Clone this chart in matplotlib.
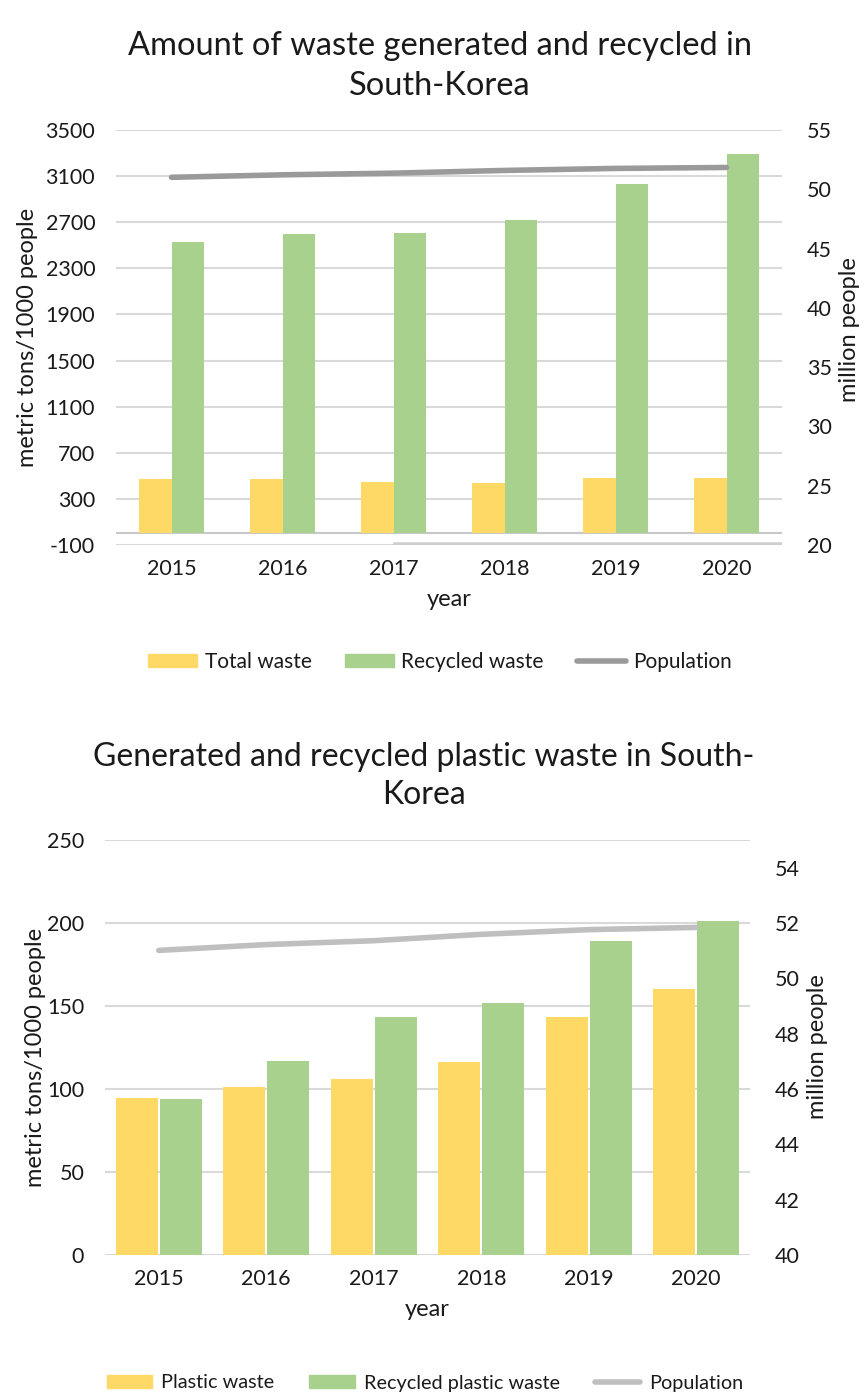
import numpy as np
import matplotlib
matplotlib.use("Agg")
import matplotlib.pyplot as plt
from matplotlib.patches import Patch
from matplotlib.lines import Line2D

years = ["2015", "2016", "2017", "2018", "2019", "2020"]

# metric tons per 1000 people
total_waste = [470, 470, 450, 436, 477, 477]
recycled_waste = [2530, 2595, 2606, 2723, 3035, 3296]
plastic_waste = [94.8, 101, 106.2, 116.1, 143.4, 160]
recycled_plastic = [94, 117, 143.4, 152, 189.2, 201.4]

# million people
population = [51.01, 51.22, 51.36, 51.59, 51.76, 51.84]

YELLOW = "#FFD966"
GREEN = "#A9D18E"
GRID = "#D9D9D9"
TXT = "#1A1A1A"

W, H = 864, 1396
plt.rcParams["font.family"] = ["Lato", "DejaVu Sans"]
plt.rcParams["axes.unicode_minus"] = False

fig = plt.figure(figsize=(W / 100, H / 100), dpi=100)


def px_axes(left, top, right, bottom):
    return fig.add_axes([left / W, 1 - bottom / H, (right - left) / W, (bottom - top) / H])


def px_text(x, y, s, **kw):
    return fig.text(x / W, 1 - y / H, s, **kw)


def style(ax, ax2):
    for a in (ax, ax2):
        for s in a.spines.values():
            s.set_visible(False)
        a.tick_params(length=0, labelsize=15.5, colors=TXT)
    ax.tick_params(axis="y", pad=15)
    ax2.tick_params(axis="y", pad=18)
    ax.tick_params(axis="x", pad=10)
    ax.set_axisbelow(True)
    ax.yaxis.grid(True, color=GRID, lw=1.5)
    ax.set_xlabel("year", fontsize=17, color=TXT, labelpad=7)


def side_labels(xl, yl, xr, yr, size=17):
    lab = dict(rotation=90, ha="center", va="center", color=TXT, fontsize=size)
    px_text(xl, yl, "metric tons/1000 people", **lab)
    px_text(xr, yr, "million people", **lab)


x = np.arange(len(years))

# ---- total / recycled waste ----
ax = px_axes(116, 130, 782, 545)
ax2 = ax.twinx()
bw = 0.29
ax.bar(x - bw / 2, total_waste, bw, color=YELLOW, zorder=2)
ax.bar(x + bw / 2, recycled_waste, bw, color=GREEN, zorder=2)
ax.set_xlim(-0.5, 5.5)
ax.set_ylim(-100, 3500)
ax.set_yticks(np.arange(-100, 3501, 400))
ax.axhline(0, color="#C8C8C8", lw=1.5, zorder=1)
ax.axhline(-100, xmin=0.42, xmax=1, color="#CFCFCF", lw=4, zorder=1)
ax.set_xticks(x)
ax.set_xticklabels(years)
ax2.plot(x, population, color="#9A9A9A", lw=4, solid_capstyle="round", zorder=3)
ax2.set_ylim(20, 55)
ax2.set_yticks(np.arange(20, 56, 5))
style(ax, ax2)
side_labels(28, 337, 849, 330)

px_text(440, 66, "Amount of waste generated and recycled in\nSouth-Korea",
        ha="center", va="center", fontsize=23.5, color=TXT, linespacing=1.4)

fig.legend([Patch(color=YELLOW), Patch(color=GREEN),
            Line2D([], [], color="#9A9A9A", lw=4, solid_capstyle="round")],
           ["Total waste", "Recycled waste", "Population"],
           loc="center", bbox_to_anchor=(440 / W, 1 - 662 / H),
           frameon=False, ncol=3, fontsize=15, handlelength=2.35, handleheight=0.6,
           handletextpad=0.35, columnspacing=1.6, labelcolor=TXT)

# ---- plastic waste ----
bx = px_axes(105, 840, 750, 1255)
bx2 = bx.twinx()
bw = 0.39
bx.bar(x - 0.205, plastic_waste, bw, color=YELLOW, zorder=2)
bx.bar(x + 0.205, recycled_plastic, bw, color=GREEN, zorder=2)
bx.set_xlim(-0.5, 5.5)
bx.set_ylim(0, 250)
bx.set_yticks(np.arange(0, 251, 50))
bx.set_xticks(x)
bx.set_xticklabels(years)
bx2.plot(x, population, color="#BFBFBF", lw=4, solid_capstyle="round", zorder=3)
bx2.set_ylim(40, 55)
bx2.set_yticks(np.arange(40, 55, 2))
style(bx, bx2)
side_labels(36, 1057, 817, 1047)

px_text(424, 776, "Generated and recycled plastic waste in South-\nKorea",
        ha="center", va="center", fontsize=23, color=TXT, linespacing=1.3)

fig.legend([Patch(color=YELLOW), Patch(color=GREEN),
            Line2D([], [], color="#BFBFBF", lw=4, solid_capstyle="round")],
           ["Plastic waste", "Recycled plastic waste", "Population"],
           loc="center", bbox_to_anchor=(425 / W, 1 - 1383 / H),
           frameon=False, ncol=3, fontsize=14.3, handlelength=2.3, handleheight=0.6,
           handletextpad=0.45, columnspacing=1.75, labelcolor=TXT)

fig.savefig("out.png", dpi=100, facecolor="white")
